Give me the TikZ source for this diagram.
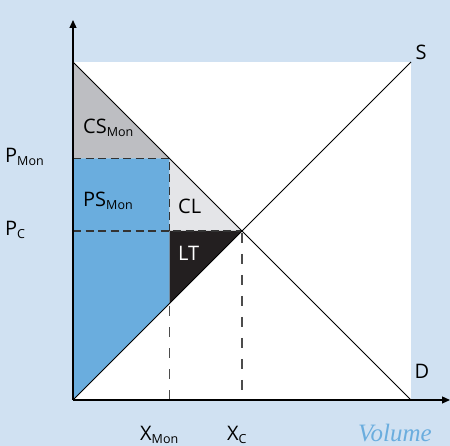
\documentclass[tikz,border=0pt]{standalone}
\usepackage{fontspec}
\setmainfont{Open Sans}
\newfontfamily\volfont{Liberation Serif}
\usetikzlibrary{arrows.meta}

\definecolor{bgblue}{HTML}{D0E1F2}
\definecolor{psblue}{HTML}{6AADDE}
\definecolor{csgray}{HTML}{BDBEC2}
\definecolor{clgray}{HTML}{E4E5E8}
\definecolor{ltblack}{HTML}{231F20}
\newcommand{\lowsub}[1]{\raisebox{-3pt}{\fontsize{12.5}{14}\selectfont #1}}

\begin{document}
\begin{tikzpicture}[
	x=1pt, y=1pt,
	axis/.style={line width=1.2pt, -{Triangle[length=8pt, width=7pt]}},
	curve/.style={line width=0.9pt},
	guide/.style={line width=1.1pt, draw=black!80, dash pattern=on 8pt off 4.5pt},
	longguide/.style={line width=1.1pt, draw=black!70, dash pattern=on 10pt off 11pt},
	lab/.style={font=\fontsize{20}{22}\selectfont, text=black, inner sep=0pt},
	every node/.style={inner sep=0pt}
]
	% frame and plot area
	\fill[bgblue] (0,0) rectangle (450,446);
	\useasboundingbox (0,0) rectangle (450,446);
	\fill[white] (73,46) rectangle (411,384);

	\coordinate (O) at (73,46);
	\coordinate (ytop) at (73,426);
	\coordinate (xend) at (450,46);
	\coordinate (dtop) at (73,384);
	\coordinate (dend) at (411,46);
	\coordinate (send) at (411,384);
	\coordinate (E) at (242,215);
	\coordinate (pmon) at (73,287.5);
	\coordinate (pc) at (73,215);
	\coordinate (mon) at (169.5,287.5);
	\coordinate (monpc) at (169.5,215);
	\coordinate (mons) at (169.5,142.5);
	\coordinate (xmon) at (169.5,46);
	\coordinate (xc) at (242,46);

	% surplus areas
	\fill[csgray] (dtop) -- (mon) -- (pmon) -- cycle;
	\fill[psblue] (pmon) -- (mon) -- (mons) -- (O) -- cycle;
	\fill[clgray] (mon) -- (E) -- (monpc) -- cycle;
	\fill[ltblack] (monpc) -- (E) -- (mons) -- cycle;

	% guides
	\draw[guide] (pmon) -- (mon) -- (monpc);
	\draw[guide] (pc) -- (E);
	\draw[longguide] ([yshift=-3pt]mons) -- (xmon);
	\draw[longguide] ([yshift=-2pt]E) -- (xc);

	% demand and supply
	\draw[curve] (dtop) -- (dend);
	\draw[curve] (O) -- (send);

	% axes
	\draw[axis] (O) -- (ytop);
	\draw[axis] (O) -- (xend);

	% labels
	\node[lab] (lS) at (421,394) {S};
	\node[lab] (lD) at (422,75) {D};
	\node[lab, anchor=west] (lpmon) at (5,289) {P\lowsub{Mon}};
	\node[lab, anchor=west] (lpc) at (5,216) {P\lowsub{C}};
	\node[lab, anchor=west] (lxmon) at (140,11) {X\lowsub{Mon}};
	\node[lab, anchor=west] (lxc) at (227,11) {X\lowsub{C}};
	\node[font=\volfont\itshape\fontsize{25}{27}\selectfont, text=psblue] (lvol) at (395,13) {Volume};
	\node[lab, anchor=west] (lcs) at (83,318) {CS\lowsub{Mon}};
	\node[lab, anchor=west] (lps) at (83,245) {PS\lowsub{Mon}};
	\node[lab, anchor=west] (lcl) at (178,240) {CL};
	\node[lab, anchor=west, text=white] (llt) at (178,193) {LT};
\end{tikzpicture}
\end{document}
